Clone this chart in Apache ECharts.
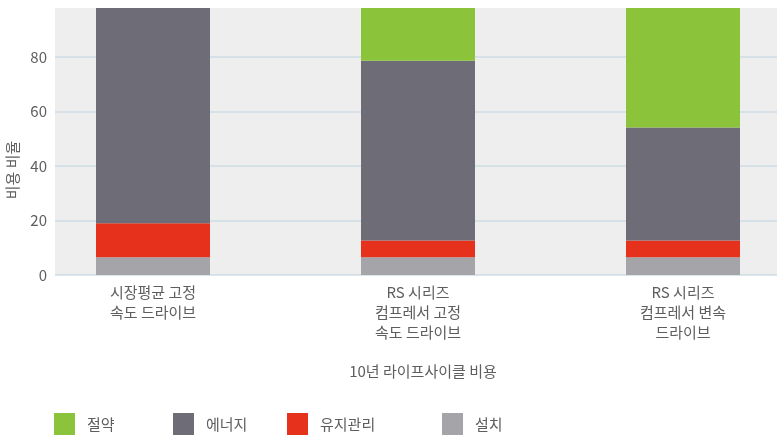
<!DOCTYPE html>
<html>
<head>
<meta charset="utf-8">
<script src="https://cdn.jsdelivr.net/npm/echarts@6/dist/echarts.min.js"></script>
<style>
  html, body { margin:0; padding:0; background:#fff; overflow:hidden; }
  /* 막대 격자가 오른쪽으로 넘치도록 창보다 넓게 */
  #costChart { width:840px; height:435px; }
</style>
</head>
<body>
<div id="costChart"></div>
<script>
// 카테고리 / 시리즈 값 (비용 비율 %)
var categories = ['시장평균 고정\n속도 드라이브', 'RS 시리즈\n컴프레서 고정\n속도 드라이브', 'RS 시리즈\n컴프레서 변속\n드라이브'];
var install = [6.5, 6.5, 6.5];
var maintenance = [12.5, 6.2, 6.2];
var energy = [81, 65.9, 41.4];
var savings = [0, 21.4, 45.9];
var yTicks = [0, 20, 40, 60, 80];

var font = 'Noto Sans CJK KR';
var textColor = '#5e5e5e';

var myChart = echarts.init(document.getElementById('costChart'));

function legendAt(name, left) {
  return {
    data: [name],
    left: left,
    top: 413,
    padding: 0,
    icon: 'rect',
    itemWidth: 21,
    itemHeight: 22,
    textStyle: { fontFamily: font, fontSize: 15, color: textColor, padding: [0, 0, 8, 7] }
  }
}

function barSeries(name, data, color) {
  return { name: name, type: 'bar', stack: 'cost', xAxisIndex: 1, yAxisIndex: 1, barWidth: 114, data: data, itemStyle: { color: color } }
}

myChart.setOption({
  animation: false,
  textStyle: { fontFamily: font },
  grid: [
    // 배경 + y축 눈금
    { left: 55, top: 8, width: 722, height: 267, show: true, backgroundColor: '#eeeeee', borderWidth: 0 },
    // 막대
    { left: 20.5, top: 8, width: 795, height: 267 }
  ],
  legend: [
    legendAt('절약', 54),
    legendAt('에너지', 173),
    legendAt('유지관리', 287),
    legendAt('설치', 442)
  ],
  graphic: [{
    type: 'text',
    x: 12,
    y: 170,
    rotation: Math.PI / 2,
    style: { text: '비용 비율', fontFamily: font, fontSize: 15, fill: textColor, align: 'center', verticalAlign: 'middle' }
  }],
  xAxis: [
    { gridIndex: 0, type: 'value', show: false, min: 0, max: 1 },
    {
      gridIndex: 1,
      type: 'category',
      data: categories,
      axisLine: { show: false },
      axisTick: { show: false },
      axisLabel: { fontFamily: font, fontSize: 15, color: textColor, lineHeight: 20, margin: 7 },
      name: '10년 라이프사이클 비용',
      nameLocation: 'middle',
      nameGap: 89,
      nameTextStyle: { fontFamily: font, fontSize: 15, color: textColor, padding: [0, 0, 0, 10] }
    }
  ],
  yAxis: [
    {
      gridIndex: 0,
      type: 'value',
      min: yTicks[0],
      max: 98,
      interval: yTicks[1] - yTicks[0],
      axisLine: { show: false },
      axisTick: { show: false },
      axisLabel: { fontFamily: font, fontSize: 15, color: textColor, margin: 8, showMaxLabel: false },
      splitLine: { show: true, showMaxLine: false, lineStyle: { color: '#cddde3', width: 1.5 } }
    },
    { gridIndex: 1, type: 'value', min: 0, max: 98, show: false, splitLine: { show: false } }
  ],
  series: [
    barSeries('설치', install, '#a5a4a9'),
    barSeries('유지관리', maintenance, '#e6321c'),
    barSeries('에너지', energy, '#6e6d77'),
    barSeries('절약', savings, '#8bc33a')
  ]
})
</script>
</body>
</html>
